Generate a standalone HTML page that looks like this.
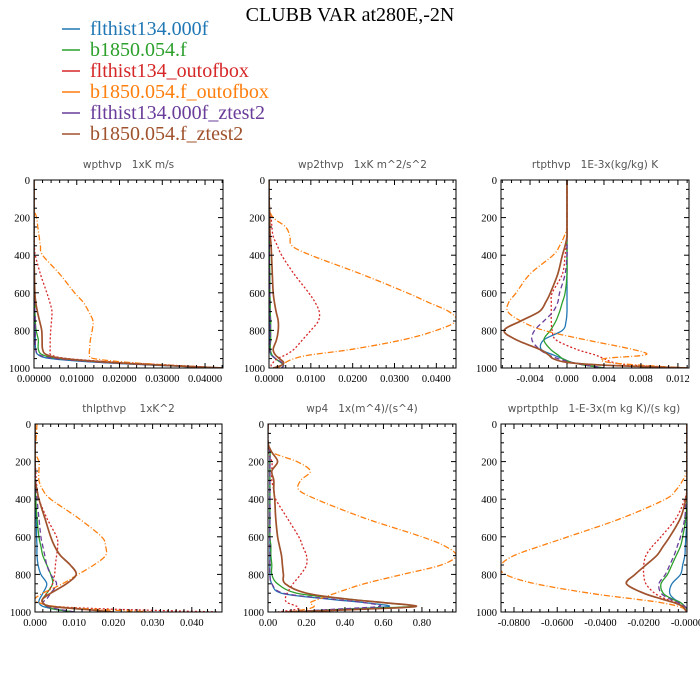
<!DOCTYPE html>
<html><head><meta charset="utf-8"><style>
body{margin:0;background:#fff;width:700px;height:700px;overflow:hidden}
svg{display:block}
text{white-space:pre}
</style></head><body>
<svg id="chart" width="700" height="700" xmlns="http://www.w3.org/2000/svg">
<text x="350" y="21" text-anchor="middle" font-family="Liberation Serif, serif" font-size="20" fill="#000">CLUBB VAR at280E,-2N</text>
<g id="legend"></g>
<g id="panels"></g>
</svg>
<script>
const LEV=[0,100,150,200,250,300,350,400,500,600,650,700,750,800,850,900,930,950,970,985,1000];
const seriesNames=["flthist134.000f","b1850.054.f","flthist134_outofbox","b1850.054.f_outofbox","flthist134.000f_ztest2","b1850.054.f_ztest2"];
const colors=["#1f77b4","#2ca02c","#d62728","#ff7f0e","#6a3d9a","#a0522d"];
const dashes=["","","2,2","6,2,1,2","5,3",""];
const widths=[1.3,1.3,1.3,1.3,1.3,1.7];
const titles=["wpthvp   1xK m/s","wp2thvp   1xK m^2/s^2","rtpthvp   1E-3x(kg/kg) K","thlpthvp    1xK^2","wp4   1x(m^4)/(s^4)","wprtpthlp   1-E-3x(m kg K)/(s kg)"];
const xMin=[0,0,-0.00714,0,0,-0.086];
const xMax=[0.0442,0.0447,0.0132,0.0477,0.977,0];
const xTicks=[[0,0.01,0.02,0.03,0.04],[0,0.01,0.02,0.03,0.04],[-0.004,0,0.004,0.008,0.012],[0,0.01,0.02,0.03,0.04],[0,0.2,0.4,0.6,0.8],[-0.08,-0.06,-0.04,-0.02,0]];
const xTickLabels=[["0.00000","0.01000","0.02000","0.03000","0.04000"],["0.0000","0.0100","0.0200","0.0300","0.0400"],["-0.004","0.000","0.004","0.008","0.012"],["0.000","0.010","0.020","0.030","0.040"],["0.00","0.20","0.40","0.60","0.80"],["-0.0800","-0.0600","-0.0400","-0.0200","-0.0000"]];
const xMinorStep=[0.002,0.002,0.001,0.002,0.04,0.004];
const yTicks=[0,200,400,600,800,1000];
const p1=[
[0,0,0,0,0,0,0,0,0,0.0001,0.0002,0.0002,0.0003,0.0003,0.0003,0.0004,0.001,0.004,0.015,0.028,0.044],
[0,0,0,0,0,0,0,0,0.0001,0.0001,0.0002,0.0002,0.0003,0.0005,0.001,0.001,0.002,0.006,0.018,0.03,0.044],
[0,0,0,0,0,0,0.0001,0.0003,0.0015,0.003,0.0037,0.0042,0.0041,0.0039,0.0038,0.0038,0.004,0.008,0.02,0.032,0.044],
[0,0,0,0.0006,0.0009,0.0012,0.0015,0.002,0.006,0.0095,0.0115,0.0128,0.0138,0.0136,0.0132,0.013,0.013,0.014,0.022,0.032,0.044],
[0,0,0,0,0,0,0,0,0,0.0001,0.0002,0.0002,0.0003,0.0003,0.0003,0.0004,0.0012,0.005,0.016,0.029,0.044],
[0,0,0,0,0,0,0,0,0.0001,0.0002,0.0004,0.0008,0.0013,0.0018,0.0019,0.002,0.003,0.007,0.018,0.03,0.044]];
const p2=[
[0,0,0,0,0,0.0001,0.0001,0.0001,0.0001,0.0002,0.0002,0.0002,0.0002,0.0002,0.0002,0.0002,0.0005,0.0015,0.0028,0.0035,0.003],
[0,0,0,0,0,0.0001,0.0001,0.0001,0.0002,0.0002,0.0003,0.0003,0.0004,0.0004,0.0004,0.0003,0.0007,0.0015,0.0028,0.0035,0.003],
[0,0,0,0.0005,0.0007,0.001,0.002,0.003,0.006,0.0095,0.011,0.012,0.0118,0.01,0.008,0.006,0.004,0.002,0.001,0.0005,0.0008],
[0,0,0,0.001,0.004,0.005,0.0055,0.01,0.022,0.033,0.038,0.043,0.0447,0.04,0.032,0.02,0.01,0.006,0.004,0.003,0.002],
[0,0,0,0,0,0.0001,0.0001,0.0001,0.0001,0.0002,0.0002,0.0002,0.0003,0.0003,0.0003,0.0002,0.0006,0.0016,0.003,0.0036,0.003],
[0,0,0.0001,0.0002,0.0002,0.0003,0.0005,0.0006,0.0008,0.001,0.0013,0.0017,0.0022,0.0022,0.0018,0.001,0.0015,0.0025,0.0035,0.003,0.001]];
const p3=[
[0,0,0,0,0,0,0,0,0,0,0,0,-0.0001,-0.0005,-0.0025,-0.0028,-0.0015,-0.0005,0.0005,0.002,0.004],
[0,0,0,0,0,0,0,0,0,-0.0002,-0.0005,-0.0008,-0.0012,-0.0018,-0.0025,-0.0018,-0.001,-0.0005,0.0005,0.002,0.004],
[0,0,0,0,0,0,-0.0001,-0.0002,-0.0005,-0.0016,-0.0017,-0.0017,-0.0017,-0.0016,-0.0012,0.001,0.003,0.004,0.005,0.007,0.013],
[0,0,0,0,0,-0.0003,-0.0008,-0.0015,-0.004,-0.0055,-0.0063,-0.0064,-0.005,-0.0025,0.002,0.007,0.0085,0.004,0.0045,0.008,0.013],
[0,0,0,0,0,0,0,0,-0.0002,-0.0008,-0.001,-0.0015,-0.0025,-0.0035,-0.0038,-0.003,-0.002,-0.001,0.0005,0.002,0.004],
[0,0,0,0,0,0,-0.0002,-0.0005,-0.001,-0.0018,-0.0023,-0.003,-0.005,-0.0068,-0.0055,-0.003,-0.002,-0.0015,0,0.004,0.013]];
const p4=[
[0,0,0,0,0,0,0,0.0001,0.0003,0.0004,0.0005,0.0005,0.0008,0.0015,0.003,0.002,0.0012,0.001,0.002,0.005,0.01],
[0,0,0,0,0,0,0.0001,0.0002,0.0005,0.001,0.0015,0.002,0.003,0.004,0.0045,0.003,0.002,0.002,0.003,0.005,0.01],
[0,0,0,0,0.0002,0.0003,0.0006,0.001,0.003,0.0055,0.0058,0.0055,0.0052,0.005,0.0045,0.003,0.002,0.002,0.005,0.02,0.047],
[0.0005,0.0002,0,0.001,0.001,0.001,0.002,0.004,0.011,0.017,0.018,0.018,0.015,0.011,0.007,0.002,0,0.001,0.005,0.015,0.03],
[0,0,0,0,0,0.0002,0.0003,0.0005,0.001,0.0015,0.002,0.0025,0.003,0.004,0.0055,0.004,0.003,0.002,0.003,0.006,0.01],
[0,0,0,0,0,0,0.0005,0.001,0.0025,0.004,0.005,0.0065,0.009,0.0105,0.008,0.004,0.002,0.002,0.004,0.012,0.02]];
const p5=[
[0,0,0.01,0.01,0.01,0.01,0.01,0.01,0.01,0.01,0.01,0.01,0.01,0.01,0.02,0.07,0.3,0.5,0.63,0.4,0.1],
[0,0,0.01,0.01,0.01,0.01,0.01,0.01,0.01,0.01,0.015,0.015,0.02,0.02,0.05,0.15,0.4,0.6,0.75,0.4,0.1],
[0,0,0,0.02,0.02,0.02,0.03,0.04,0.1,0.16,0.18,0.2,0.2,0.17,0.13,0.1,0.09,0.1,0.15,0.15,0.05],
[0,0,0.02,0.15,0.22,0.17,0.16,0.25,0.5,0.8,0.92,0.977,0.9,0.7,0.5,0.35,0.27,0.22,0.24,0.2,0.1],
[0,0,0.01,0.01,0.01,0.01,0.01,0.01,0.01,0.01,0.01,0.01,0.01,0.01,0.02,0.08,0.32,0.5,0.58,0.35,0.1],
[0,0,0.02,0.05,0.02,0.03,0.03,0.035,0.04,0.05,0.06,0.07,0.075,0.08,0.09,0.2,0.4,0.6,0.77,0.5,0.1]];
const p6=[
[0,0,0,0,0,0,0,0,0,-0.0005,-0.0008,-0.001,-0.002,-0.003,-0.007,-0.008,-0.006,-0.003,-0.001,0,0],
[0,0,0,0,0,0,0,0,-0.0005,-0.002,-0.003,-0.005,-0.007,-0.009,-0.012,-0.011,-0.007,-0.003,-0.001,0,0],
[0,0,0,0,0,0,0,-0.001,-0.005,-0.012,-0.016,-0.019,-0.02,-0.02,-0.019,-0.015,-0.01,-0.005,-0.002,-0.001,0],
[0,0,0,0,0,-0.002,-0.005,-0.01,-0.03,-0.055,-0.068,-0.08,-0.086,-0.084,-0.07,-0.045,-0.025,-0.012,-0.004,-0.001,0],
[0,0,0,0,0,0,0,-0.0005,-0.001,-0.003,-0.0045,-0.006,-0.008,-0.01,-0.013,-0.012,-0.008,-0.004,-0.001,0,0],
[0,0,0,0,0,0,0,-0.0005,-0.003,-0.008,-0.011,-0.014,-0.019,-0.024,-0.028,-0.02,-0.012,-0.006,-0.002,-0.001,0]];
const panelData=[p1,p2,p3,p4,p5,p6];
const boxes=[[34,180,223,368],[269,180,456,368],[501,180,689,368],[35,424,222,612],[268,424,456,612],[501,424,687,612]];
const NS="http://www.w3.org/2000/svg";
function mk(tag,attrs,parent){const e=document.createElementNS(NS,tag);for(const k in attrs)e.setAttribute(k,attrs[k]);parent.appendChild(e);return e;}
function smoothPath(P){
  let d='M'+P[0][0].toFixed(1)+','+P[0][1].toFixed(1);
  for(let i=0;i<P.length-1;i++){
    const p0=P[Math.max(i-1,0)],p1=P[i],p2=P[i+1],p3=P[Math.min(i+2,P.length-1)];
    const c1=[p1[0]+(p2[0]-p0[0])/6,p1[1]+(p2[1]-p0[1])/6];
    const c2=[p2[0]-(p3[0]-p1[0])/6,p2[1]-(p3[1]-p1[1])/6];
    d+=' C'+c1[0].toFixed(1)+','+c1[1].toFixed(1)+' '+c2[0].toFixed(1)+','+c2[1].toFixed(1)+' '+p2[0].toFixed(1)+','+p2[1].toFixed(1);
  }
  return d;
}
const lg=document.getElementById('legend');
const legY=[35,56,77,98,119,140];
seriesNames.forEach((n,i)=>{
  const g=mk('g',{},lg);
  
  
  mk('line',{x1:62,x2:80,y1:legY[i]-6,y2:legY[i]-6,stroke:colors[i],'stroke-width':1.5},g);
  const t=mk('text',{x:90,y:legY[i],'font-family':'Liberation Serif, serif','font-size':20,fill:colors[i]},g);
  t.textContent=n;
});
const root=document.getElementById('panels');
panelData.forEach((data,pi)=>{
  const [L,T,R,B]=boxes[pi];
  const g=mk('g',{},root);
  
  
  const xs=v=>L+(v-xMin[pi])/(xMax[pi]-xMin[pi])*(R-L);
  const ys=p=>T+p/1000*(B-T);
  const tt=mk('text',{x:(L+R)/2,y:T-12,'text-anchor':'middle','font-family':'DejaVu Sans, sans-serif','font-size':10.5,fill:'#555'},g);
  
  
  tt.textContent=titles[pi];
  const clip='clip'+pi;
  const cp=mk('clipPath',{id:clip},g);mk('rect',{x:L,y:T,width:R-L,height:B-T},cp);
  const sg=mk('g',{'clip-path':'url(#'+clip+')'},g);
  data.forEach((vals,si)=>{
    const P=vals.map((v,k)=>[xs(v),ys(LEV[k])]);
    const pl=mk('path',{d:smoothPath(P),fill:'none',stroke:colors[si],'stroke-width':widths[si],'stroke-dasharray':dashes[si]||'none','stroke-linejoin':'round'},sg);
    
    
  });
  mk('rect',{x:L,y:T,width:R-L,height:B-T,fill:'none',stroke:'#000','stroke-width':1},g);
  for(let p=0;p<=1000;p+=50){
    const major=p%200===0, len=major?5:3, y=ys(p);
    mk('line',{x1:L,x2:L+len,y1:y,y2:y,stroke:'#000','stroke-width':1},g);
    mk('line',{x1:R,x2:R-len,y1:y,y2:y,stroke:'#000','stroke-width':1},g);
  }
  yTicks.forEach(p=>{
    const t=mk('text',{x:L-4,y:ys(p)+4,'text-anchor':'end','font-family':'Liberation Serif, serif','font-size':10.5,fill:'#000'},g);
    
    
    t.textContent=p;
  });
  const st=xMinorStep[pi];
  for(let k=Math.ceil(xMin[pi]/st);k*st<=xMax[pi]+1e-12;k++){
    const v=k*st, x=xs(v);
    const major=xTicks[pi].some(t=>Math.abs(t-v)<st/10);
    const len=major?5:3;
    mk('line',{x1:x,x2:x,y1:B,y2:B-len,stroke:'#000','stroke-width':1},g);
    mk('line',{x1:x,x2:x,y1:T,y2:T+len,stroke:'#000','stroke-width':1},g);
  }
  xTicks[pi].forEach((v,k)=>{
    const t=mk('text',{x:xs(v),y:B+14,'text-anchor':'middle','font-family':'Liberation Serif, serif','font-size':10.5,fill:'#000'},g);
    
    
    t.textContent=xTickLabels[pi][k];
  });
});
</script>
</body></html>
